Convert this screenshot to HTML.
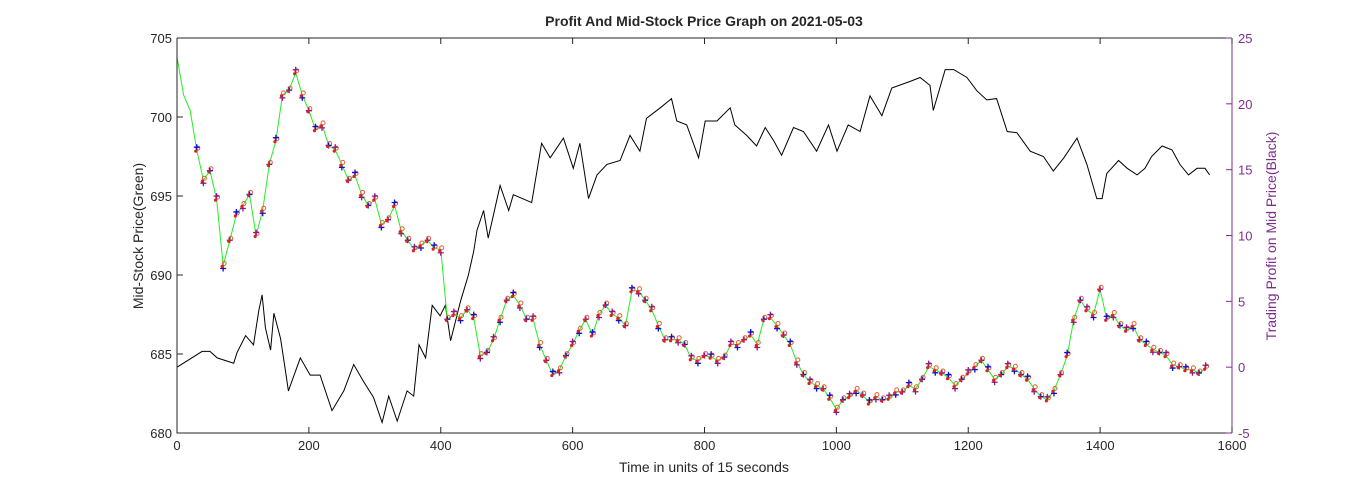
<!DOCTYPE html>
<html><head><meta charset="utf-8"><style>
html,body{margin:0;padding:0;background:#fff;}
svg text{font-family:"Liberation Sans",Arial,sans-serif;}
</style></head><body>
<svg id="chart" width="1366" height="488" xmlns="http://www.w3.org/2000/svg">
<rect width="1366" height="488" fill="#fff"/>
<text x="704" y="26" text-anchor="middle" font-size="14" font-weight="bold" fill="#262626">Profit And Mid-Stock Price Graph on 2021-05-03</text>
<g id="series"></g>
<g id="axes"></g>
<text x="704" y="472" text-anchor="middle" font-size="14" fill="#262626">Time in units of 15 seconds</text>
<text transform="translate(143,236) rotate(-90)" text-anchor="middle" font-size="14" fill="#262626">Mid-Stock Price(Green)</text>
<text transform="translate(1276,236) rotate(-90)" text-anchor="middle" font-size="14" fill="#7E2F8E">Trading Profit on Mid Price(Black)</text>
</svg>
<script>
const priceTimeStep = 10;
const priceValues = [703.8,701.4,700.4,697.9,696,696.6,694.8,690.6,692.2,693.8,694.4,695.1,692.5,694.1,697,698.5,701.4,701.7,702.8,701.4,700.4,699.2,699.5,698.2,697.9,697,696,696.3,695.1,694.4,694.8,693.2,693.5,694.4,692.8,692.2,691.6,691.9,692.2,691.7,691.6,687.2,687.5,687.3,687.8,687.3,684.9,685.1,685.9,687.2,688.4,688.7,688.1,687.2,687.2,685.6,684.6,683.7,684,684.9,685.6,686.5,687.2,686.2,687.5,688.1,687.5,687.3,686.8,689,689,688.4,687.8,686.8,685.9,685.9,685.9,685.6,684.7,684.6,684.9,684.8,684.6,684.8,685.6,685.6,685.9,686.2,685.6,687.2,687.3,686.8,686.2,685.6,684.5,683.7,683.2,683,682.8,682.2,681.5,682.1,682.3,682.7,682.4,681.9,682.3,682.1,682.2,682.6,682.6,683,682.8,683.4,684.2,684,683.8,683.5,683,683.4,683.8,684.2,684.6,684,683.4,683.7,684.2,684.1,683.7,683.4,682.8,682.3,682.1,682.7,683.7,684.9,687.2,688.4,687.8,687.5,689.1,687.2,687.5,686.8,686.5,686.8,685.9,685.6,685.3,685.1,684.9,684.3,684.2,684,684,683.8,684.1];
const profitTimes = [0,38,50,61,86,91,104,116,124,129,134,142,147,157,164,169,187,202,217,235,253,268,283,298,311,321,334,349,359,367,377,387,399,407,415,430,442,450,455,465,472,490,503,510,538,553,566,586,601,611,624,637,652,672,687,702,712,733,750,758,773,791,801,819,839,846,864,879,892,905,917,935,950,970,988,1001,1018,1036,1051,1069,1084,1112,1127,1142,1147,1165,1178,1198,1213,1228,1243,1259,1274,1294,1314,1329,1345,1365,1380,1395,1403,1410,1428,1441,1456,1468,1478,1494,1509,1521,1534,1547,1559,1566];
const profitValues = [0,1.2,1.2,0.7,0.3,1.1,2.4,1.7,4.3,5.5,3.0,1.3,4.1,2.2,-0.1,-1.8,0.7,-0.6,-0.6,-3.3,-1.8,0.2,-1.1,-2.3,-4.2,-2.2,-4.1,-1.8,-2.2,1.7,0.7,4.7,3.9,4.7,2.0,5.0,7.0,8.8,10.4,11.9,9.8,13.8,11.9,13.1,12.5,17.0,15.9,17.4,15.1,17.0,12.8,14.6,15.4,15.7,17.6,16.4,18.9,19.7,20.4,18.7,18.4,15.9,18.7,18.7,19.7,18.4,17.6,16.8,18.2,17.2,16.1,18.2,17.9,16.4,18.4,16.4,18.4,17.9,20.6,19.1,21.2,21.7,22.0,21.4,19.5,22.6,22.6,22.0,21.0,20.3,20.4,17.9,17.8,16.4,16.0,14.9,15.9,17.4,15.4,12.8,12.8,14.7,15.7,15.1,14.6,15.1,16.0,16.8,16.5,15.4,14.6,15.1,15.1,14.6];
const xTicks = [0,200,400,600,800,1000,1200,1400,1600];
const leftTicks = [680,685,690,695,700,705];
const rightTicks = [-5,0,5,10,15,20,25];

const X0=177,X1=1232,Y0=38,Y1=433;
const xS=t=>X0+(t-0)/(1600-0)*(X1-X0);
const yL=v=>Y1-(v-680)/(705-680)*(Y1-Y0);
const yR=v=>Y1-(v+5)/(25+5)*(Y1-Y0);
const NS='http://www.w3.org/2000/svg';
function mk(tag,attrs,parent){const e=document.createElementNS(NS,tag);for(const k in attrs)e.setAttribute(k,attrs[k]);parent.appendChild(e);return e;}
const S=document.getElementById('series'), A=document.getElementById('axes');

let d='';profitTimes.forEach((t,i)=>{d+=(i?'L':'M')+xS(t).toFixed(1)+','+yR(profitValues[i]).toFixed(1);});
const pl=mk('path',{d:d,fill:'none',stroke:'#000','stroke-width':1},S);



let g='';priceValues.forEach((v,i)=>{g+=(i?'L':'M')+xS(i*priceTimeStep).toFixed(1)+','+yL(v).toFixed(1);});
const gl=mk('path',{d:g,fill:'none',stroke:'#22ee22','stroke-width':1},S);



priceValues.forEach((v,i)=>{
  if(i<3)return;
  const x=xS(i*priceTimeStep),y=yL(v);
  const off=(i%3===0)?-3:(i%3===1?3:0);
  const c=mk('circle',{cx:x+1,cy:y-2,r:2,fill:'none',stroke:'#e0603a','stroke-width':1},S);
  
  
  const col=(i%2)?'#1010d0':'#8a1a8a';
  const p=mk('path',{d:`M${x-3},${y+off}H${x+3}M${x},${y+off-3}V${y+off+3}`,stroke:col,'stroke-width':1.3,fill:'none'},S);
  
  
  const c2=mk('circle',{cx:x-1,cy:y+1,r:1.6,fill:'#e02020',stroke:'none'},S);
  
  
});

const fr=mk('path',{d:`M${X0},${Y0}V${Y1}H${X1}M${X0},${Y0}H${X1}`,stroke:'#262626','stroke-width':1,fill:'none'},A);


const ra=mk('line',{x1:X1,y1:Y0,x2:X1,y2:Y1,stroke:'#7E2F8E','stroke-width':1},A);


xTicks.forEach(t=>{const x=xS(t);
  mk('path',{d:`M${x},${Y1}v-6M${x},${Y0}v6`,stroke:'#262626'},A);
  const tx=mk('text',{x:x,y:Y1+17,'text-anchor':'middle','font-size':13,fill:'#262626'},A);tx.textContent=t;
  
  
});
leftTicks.forEach(v=>{const y=yL(v);
  mk('path',{d:`M${X0},${y}h6`,stroke:'#262626'},A);
  const tx=mk('text',{x:X0-5,y:y+5,'text-anchor':'end','font-size':13,fill:'#262626'},A);tx.textContent=v;
  
  
});
rightTicks.forEach(v=>{const y=yR(v);
  mk('path',{d:`M${X1},${y}h-6`,stroke:'#7E2F8E'},A);
  const tx=mk('text',{x:X1+6,y:y+5,'text-anchor':'start','font-size':13,fill:'#7E2F8E'},A);tx.textContent=v;
  
  
});
</script>
</body></html>
